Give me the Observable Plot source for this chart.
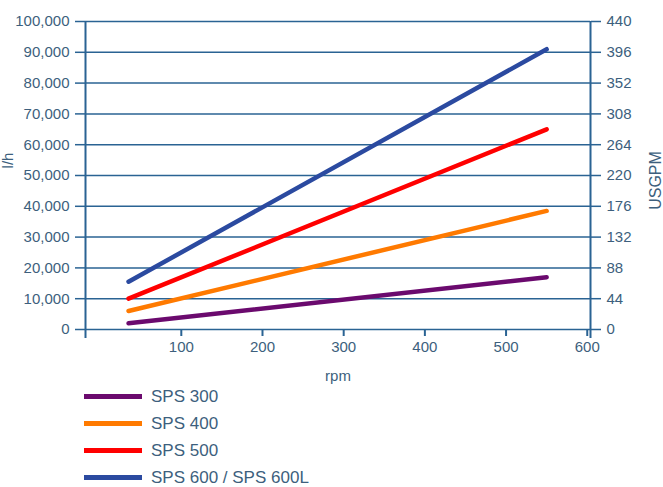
<!DOCTYPE html>
<html>
<head>
<meta charset="utf-8">
<script src="https://cdn.jsdelivr.net/npm/d3@7"></script>
<script src="https://cdn.jsdelivr.net/npm/@observablehq/plot@0.6"></script>
<style>
  body { margin: 0; background: #fff; font-family: "Liberation Sans", Arial, sans-serif; }
  #legend { position: relative; margin-left: 84px; margin-top: -1px; }
  .row { display: flex; align-items: center; height: 27px; color: #3d5f7d; font-size: 17px; }
  .sw { width: 58px; height: 5px; margin-right: 9px; }
</style>
</head>
<body>
<div id="chart"></div>
<div id="legend"></div>
<script>
const series = ["SPS 300", "SPS 400", "SPS 500", "SPS 600 / SPS 600L"];
const colors = ["#6b0a6e", "#ff7a00", "#ff0000", "#2b4aa0"];
const rpmRange = [35, 550];
const startLh = [2000, 6000, 10000, 15500];
const endLh = [17000, 38500, 65000, 91000];
const yTicksLh = [0, 10000, 20000, 30000, 40000, 50000, 60000, 70000, 80000, 90000, 100000];
const yTicksUsgpm = [0, 44, 88, 132, 176, 220, 264, 308, 352, 396, 440];
const xTicks = [100, 200, 300, 400, 500, 600];
const xDomain = [-18, 604];

const data = [];
series.forEach((s, i) => {
  data.push({series: s, rpm: rpmRange[0], lh: startLh[i]});
  data.push({series: s, rpm: rpmRange[1], lh: endLh[i]});
});

const gridColor = "#2a6393";
const textColor = "#3d5f7d";

const chart = Plot.plot({
  width: 663,
  height: 384,
  marginLeft: 85,
  marginRight: 73,
  marginTop: 21,
  marginBottom: 55,
  x: {domain: xDomain},
  y: {domain: [0, 100000]},
  color: {domain: series, range: colors},
  style: {fontFamily: "'Liberation Sans', Arial, sans-serif", fontSize: "15px", color: textColor, background: "white", overflow: "visible"},
  marks: [
    Plot.gridY(yTicksLh, {stroke: gridColor, strokeOpacity: 1, strokeWidth: 1.5}),
    Plot.axisY(yTicksLh, {anchor: "left", tickSize: 10, tickPadding: 6, stroke: gridColor, strokeWidth: 1.5, fill: textColor, label: null, tickFormat: d3.format(",")}),
    Plot.axisY(yTicksLh, {anchor: "right", tickSize: 10, tickPadding: 6, stroke: gridColor, strokeWidth: 1.5, fill: textColor,
      tickFormat: d => String(yTicksUsgpm[yTicksLh.indexOf(d)]), label: null}),
    Plot.axisX(xTicks, {anchor: "bottom", tickSize: 7, tickPadding: 5, stroke: gridColor, strokeWidth: 2, fill: textColor, label: null}),
    Plot.ruleX([xDomain[0], xDomain[1]], {stroke: gridColor, strokeWidth: 2, insetBottom: -9}),
    Plot.line(data, {x: "rpm", y: "lh", z: "series", stroke: "series", strokeWidth: 4.5}),
    Plot.text(["l/h"], {frameAnchor: "left", rotate: -90, textAnchor: "middle", dx: -77, dy: -15, fill: textColor, fontSize: 15}),
    Plot.text(["USGPM"], {frameAnchor: "right", rotate: -90, textAnchor: "middle", dx: 65, dy: 5, fill: textColor, fontSize: 16}),
    Plot.text(["rpm"], {frameAnchor: "bottom", textAnchor: "middle", dy: 51, fill: textColor, fontSize: 15})
  ]
});
document.getElementById("chart").appendChild(chart);

const legend = document.getElementById("legend");
series.forEach((s, i) => {
  const row = document.createElement("div");
  row.className = "row";
  const sw = document.createElement("div");
  sw.className = "sw";
  sw.style.background = colors[i];
  const t = document.createElement("span");
  t.textContent = s;
  row.appendChild(sw);
  row.appendChild(t);
  legend.appendChild(row);
});
</script>
</body>
</html>
